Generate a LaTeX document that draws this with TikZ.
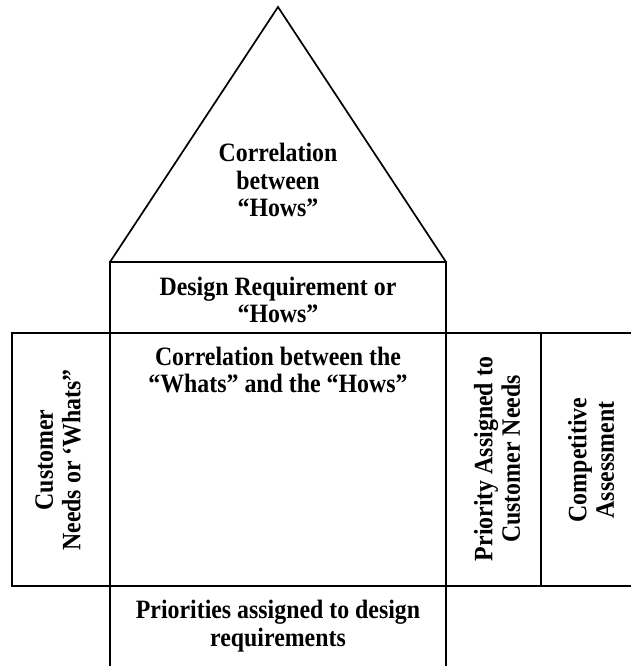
\documentclass[tikz,border=0pt]{standalone}
\usepackage{fontspec}
\setmainfont{Liberation Serif}[FakeStretch=0.9]
\begin{document}
\begin{tikzpicture}[x=1pt,y=-1pt,line width=1.7pt,every node/.style={font=\bfseries\fontsize{26.5}{27.5}\selectfont,align=center,inner sep=0}]
        \newcommand{\Lx}{12}
        \newcommand{\Ax}{110}
        \newcommand{\Bx}{446}
        \newcommand{\Cx}{541}
        \newcommand{\Rx}{632}
        \newcommand{\Ty}{333}
        \newcommand{\By}{586}
        \useasboundingbox(0,0)rectangle(630,666);
        \coordinate(apex)at(278,7);
        \coordinate(BL)at(\Ax,262);
        \coordinate(BR)at(\Bx,262);
        \draw(BL)--(apex)--(BR);
        \draw(BL)rectangle(\Bx,\Ty);
        \draw(\Lx,\Ty)rectangle(\Ax,\By);
        \draw(\Ax,\Ty)rectangle(\Bx,\By);
        \draw(\Bx,\Ty)rectangle(\Cx,\By);
        \draw(\Rx,\Ty)-|(\Cx,\By)--(\Rx,\By);
        \draw(\Ax,\By)--(\Ax,668);
        \draw(\Bx,\By)--(\Bx,668);
        \node(roof)at(278,180){Correlation\\between\\“Hows”};
        \node(hows)at(278,300){Design Requirement or\\“Hows”};
        \node(matrix)at(278,370){Correlation between the\\“Whats” and the “Hows”};
        \node[rotate=90](whats)at(58,460){Customer\\Needs or ‘Whats”};
        \node[rotate=90](prio)at(497,459){Priority Assigned to\\Customer Needs};
        \node[rotate=90](comp)at(591,460){Competitive\\Assessment};
        \node(targets)at(278,626){Priorities assigned to design\\requirements};
    \end{tikzpicture}
\end{document}
